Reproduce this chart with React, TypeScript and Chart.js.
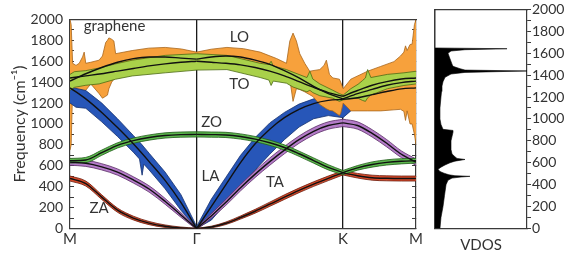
import React, { useEffect, useRef } from 'react';
import { Chart, registerables } from 'chart.js';

Chart.register(...registerables);

// ---------------- data ----------------
// k-path distance (M=0, Γ=0.866, K=1.866, M=2.366)
const kTicks = [0, 0.866, 1.866, 2.366];
const kTickLabels = ['M', 'Γ', 'K', 'M'];

const kGrid = [0, 0.108, 0.217, 0.325, 0.433, 0.541, 0.65, 0.758, 0.866, 0.966, 1.066, 1.166, 1.266, 1.366, 1.466, 1.566, 1.666, 1.766, 1.866, 1.966, 2.066, 2.166, 2.266, 2.366];
const segmentBounds = [[0, 8], [8, 18], [18, 23]];

const zaFreq = [478, 430, 300, 175, 100, 52, 22, 6, 0, 14, 50, 105, 165, 232, 300, 365, 425, 480, 532, 505, 486, 480, 478, 478];
const zaSpread = [24, 24, 22, 20, 18, 15, 12, 8, 3, 8, 12, 15, 18, 20, 22, 22, 22, 22, 20, 22, 24, 24, 24, 24];

const taFreq = [635, 624, 590, 540, 465, 378, 260, 130, 0, 120, 250, 390, 520, 640, 750, 850, 930, 985, 1010, 985, 910, 815, 710, 635];
const taSpread = [30, 30, 30, 30, 30, 30, 28, 22, 10, 22, 28, 30, 32, 35, 35, 35, 35, 35, 35, 35, 35, 35, 32, 30];

const zoFreq = [648, 655, 725, 795, 840, 870, 890, 898, 900, 898, 895, 880, 855, 820, 775, 715, 650, 585, 535, 580, 612, 632, 643, 648];
const zoSpread = [22, 25, 25, 25, 25, 25, 25, 25, 25, 25, 25, 25, 25, 25, 25, 25, 25, 25, 20, 22, 25, 25, 25, 22];

const laFreq = [1345, 1240, 1110, 965, 810, 640, 460, 250, 0, 210, 420, 630, 810, 950, 1060, 1140, 1195, 1225, 1235, 1250, 1280, 1310, 1335, 1345];
const loFreq = [1410, 1480, 1540, 1590, 1625, 1640, 1640, 1630, 1620, 1640, 1650, 1640, 1610, 1570, 1510, 1440, 1360, 1290, 1240, 1290, 1330, 1370, 1395, 1410];
const toFreq = [1440, 1460, 1480, 1505, 1530, 1555, 1575, 1590, 1600, 1590, 1580, 1565, 1540, 1505, 1460, 1405, 1350, 1300, 1265, 1320, 1370, 1405, 1430, 1440];

// LA (blue) uncertainty band
const laBandK = [0, 0.041, 0.108, 0.217, 0.325, 0.433, 0.475, 0.493, 0.505, 0.541, 0.65, 0.758, 0.866, 0.966, 1.066, 1.166, 1.266, 1.366, 1.466, 1.566, 1.666, 1.766, 1.866, 1.966, 2.066, 2.166, 2.266, 2.366];
const laBandLo = [1200, 1160, 1150, 1020, 880, 730, 665, 510, 615, 560, 380, 175, 0, 80, 240, 400, 560, 710, 850, 970, 1050, 1080, 1060, 1180, 1220, 1260, 1290, 1300];
const laBandHi = [1350, 1340, 1320, 1200, 1050, 890, 828, 800, 780, 720, 540, 325, 20, 280, 490, 700, 870, 1010, 1110, 1190, 1240, 1268, 1265, 1290, 1320, 1350, 1370, 1380];

// LO (orange) band
const loBandK = [0, 0.008, 0.018, 0.041, 0.063, 0.086, 0.097, 0.108, 0.142, 0.199, 0.222, 0.244, 0.256, 0.266, 0.285, 0.300, 0.312, 0.425, 0.538, 0.651, 0.762, 0.866, 0.966, 1.073, 1.186, 1.300, 1.412, 1.480, 1.503, 1.525, 1.548, 1.571, 1.605, 1.639, 1.661, 1.708, 1.737, 1.753, 1.774, 1.797, 1.842, 1.851, 1.868, 1.92, 2.034, 2.124, 2.215, 2.260, 2.283, 2.294, 2.305, 2.325, 2.339, 2.355, 2.366];
const loBandLo = [750, 800, 1337, 1307, 1276, 1300, 1310, 1322, 1383, 1290, 1246, 1265, 1276, 1337, 1400, 1428, 1504, 1510, 1530, 1545, 1555, 1565, 1560, 1540, 1510, 1470, 1430, 1428, 1428, 1216, 1337, 1330, 1307, 1280, 1262, 1186, 1160, 1145, 1130, 1125, 1080, 1100, 1200, 1125, 1125, 1125, 1135, 1140, 1120, 1034, 1125, 1000, 1000, 900, 800];
const loBandHi = [2000, 1950, 1580, 1560, 1580, 1641, 1687, 1580, 1590, 1610, 1650, 1778, 1800, 1823, 1810, 1793, 1672, 1702, 1725, 1732, 1717, 1687, 1715, 1732, 1720, 1687, 1626, 1580, 1793, 1869, 1793, 1672, 1580, 1504, 1510, 1520, 1560, 1610, 1474, 1440, 1428, 1400, 1337, 1428, 1504, 1550, 1596, 1650, 1687, 1747, 1702, 1760, 1763, 1950, 2000];

// TO (light green) band
const toBandK = [0, 0.03, 0.108, 0.199, 0.312, 0.425, 0.651, 0.866, 1.073, 1.300, 1.36, 1.375, 1.39, 1.480, 1.525, 1.62, 1.64, 1.66, 1.708, 1.797, 1.842, 1.868, 1.92, 1.97, 2.00, 2.02, 2.035, 2.057, 2.17, 2.283, 2.366];
const toBandLo = [1322, 1350, 1370, 1383, 1428, 1459, 1489, 1515, 1520, 1444, 1420, 1368, 1410, 1390, 1353, 1307, 1322, 1300, 1270, 1246, 1216, 1230, 1240, 1246, 1225, 1216, 1250, 1276, 1337, 1368, 1383];
const toBandHi = [1474, 1500, 1510, 1535, 1575, 1610, 1656, 1672, 1656, 1580, 1568, 1600, 1555, 1520, 1495, 1444, 1504, 1430, 1383, 1322, 1290, 1276, 1337, 1380, 1415, 1440, 1520, 1444, 1474, 1489, 1504];

// band labels
const bandLabels = ['graphene', 'LO', 'TO', 'ZO', 'LA', 'TA', 'ZA'];
const bandLabelK = [0.305, 1.158, 1.158, 0.969, 0.961, 1.401, 0.199];
const bandLabelF = [1937, 1831, 1376, 1018, 503, 442, 199];

// vibrational density of states
const vdosFreq = [0, 100, 200, 300, 400, 440, 460, 470, 476, 482, 490, 505, 520, 540, 560, 580, 600, 615, 630, 640, 655, 680, 720, 800, 880, 895, 905, 950, 1000, 1100, 1200, 1250, 1300, 1340, 1380, 1410, 1425, 1438, 1446, 1459, 1480, 1500, 1550, 1600, 1620, 1632, 1641, 1646, 1648, 2000];
const vdosVal = [0.054, 0.065, 0.087, 0.103, 0.12, 0.141, 0.185, 0.283, 0.38, 0.217, 0.152, 0.098, 0.054, 0.033, 0.065, 0.109, 0.163, 0.217, 0.326, 0.239, 0.217, 0.185, 0.174, 0.174, 0.196, 0.196, 0.087, 0.065, 0.054, 0.054, 0.065, 0.071, 0.076, 0.087, 0.109, 0.174, 0.326, 1.0, 0.326, 0.272, 0.196, 0.185, 0.163, 0.141, 0.174, 0.326, 0.783, 0.217, 0, 0];

// ---------------- styling ----------------
const FONT = "Lato, 'Open Sans', sans-serif";
const TEXT = '#333333';
const AXIS = '#3a3a3a';
const LINE = '#111111';

const COLORS = {
  za: ['#d84a2a', '#6b1d0e'],
  ta: ['#b47cc8', '#5a2f66'],
  zo: ['#5db84e', '#1f5a18'],
  to: ['#a9d14a', '#4d6b14'],
  la: ['#2756b8', '#14306e'],
  lo: ['#f7a13c', '#a8661c'],
};

type Pt = { x: number; y: number };
const pts = (ks: number[], vs: number[]): Pt[] => ks.map((k, i) => ({ x: k, y: vs[i] }));

function smoothBand(freq: number[], spread: number[], fillColor: string, edge: string) {
  const out: any[] = [];
  for (const [a, b] of segmentBounds) {
    const ks = kGrid.slice(a, b + 1);
    const lo = freq.slice(a, b + 1).map((f, i) => f - spread[a + i]);
    const hi = freq.slice(a, b + 1).map((f, i) => f + spread[a + i]);
    out.push({ data: pts(ks, lo), borderColor: edge, borderWidth: 0.8, pointRadius: 0, fill: false, cubicInterpolationMode: 'monotone' });
    out.push({ data: pts(ks, hi), borderColor: edge, borderWidth: 0.8, pointRadius: 0, fill: '-1', backgroundColor: fillColor, cubicInterpolationMode: 'monotone' });
  }
  return out;
}

function roughBand(ks: number[], lo: number[], hi: number[], fillColor: string, edge: string) {
  return [
    { data: pts(ks, lo), borderColor: edge, borderWidth: 0.8, pointRadius: 0, fill: false, tension: 0 },
    { data: pts(ks, hi), borderColor: edge, borderWidth: 0.8, pointRadius: 0, fill: '-1', backgroundColor: fillColor, tension: 0 },
  ];
}

function centerLines(freq: number[]) {
  return segmentBounds.map(([a, b]) => ({
    data: pts(kGrid.slice(a, b + 1), freq.slice(a, b + 1)),
    borderColor: LINE,
    borderWidth: 1.4,
    pointRadius: 0,
    fill: false,
    cubicInterpolationMode: 'monotone',
  }));
}

function sliceBand(ks: number[], lo: number[], hi: number[], from: number, to: number) {
  const idx = ks.map((k, i) => i).filter((i) => ks[i] >= from && ks[i] <= to);
  return [idx.map((i) => ks[i]), idx.map((i) => lo[i]), idx.map((i) => hi[i])] as [number[], number[], number[]];
}

const labelPlugin = {
  id: 'bandLabels',
  afterDatasetsDraw(chart: any) {
    const { ctx, scales } = chart;
    ctx.save();
    ctx.font = `15px ${FONT}`;
    ctx.fillStyle = TEXT;
    ctx.textAlign = 'center';
    ctx.textBaseline = 'middle';
    bandLabels.forEach((t, i) => {
      ctx.fillText(t, scales.x.getPixelForValue(bandLabelK[i]), scales.y.getPixelForValue(bandLabelF[i]));
    });
    ctx.restore();
  },
};

const freqTickLabel = (v: any) => {
  const n = Math.round(Number(v));
  return n % 200 === 0 ? String(n) : '';
};

export default function App() {
  const c1 = useRef<HTMLCanvasElement>(null);
  const c2 = useRef<HTMLCanvasElement>(null);

  useEffect(() => {
    const laMG = sliceBand(laBandK, laBandLo, laBandHi, 0, 0.866);
    const laGKM = sliceBand(laBandK, laBandLo, laBandHi, 0.866, 2.366);

    const datasets: any[] = [
      ...centerLines(zaFreq),
      ...centerLines(taFreq),
      ...centerLines(zoFreq),
      ...centerLines(laFreq),
      ...centerLines(loFreq),
      ...centerLines(toFreq),
      ...smoothBand(zoFreq, zoSpread, COLORS.zo[0], COLORS.zo[1]),
      ...smoothBand(zaFreq, zaSpread, COLORS.za[0], COLORS.za[1]),
      ...smoothBand(taFreq, taSpread, COLORS.ta[0], COLORS.ta[1]),
      ...roughBand(toBandK, toBandLo, toBandHi, COLORS.to[0], COLORS.to[1]),
      ...roughBand(laMG[0], laMG[1], laMG[2], COLORS.la[0], COLORS.la[1]),
      ...roughBand(loBandK, loBandLo, loBandHi, COLORS.lo[0], COLORS.lo[1]),
      ...roughBand(laGKM[0], laGKM[1], laGKM[2], COLORS.la[0], COLORS.la[1]),
    ];

    const ch1 = new Chart(c1.current as HTMLCanvasElement, {
      type: 'line',
      data: { datasets },
      options: {
        animation: false,
        responsive: false,
        devicePixelRatio: 1,
        layout: { padding: { top: 9, right: 6, left: 0, bottom: 0 } },
        plugins: { legend: { display: false }, tooltip: { enabled: false } },
        scales: {
          x: {
            type: 'linear',
            position: 'bottom',
            min: 0,
            max: 2.366,
            z: 1,
            afterBuildTicks: (s: any) => { s.ticks = kTicks.map((v) => ({ value: v })); },
            afterFit: (s: any) => { s.height = 27.5; },
            ticks: {
              autoSkip: false,
              maxRotation: 0,
              padding: 2,
              color: TEXT,
              font: { family: FONT, size: 15 },
              callback: (_v: any, i: number) => kTickLabels[i],
            },
            grid: {
              drawTicks: false,
              lineWidth: 1.3,
              color: (c: any) => (c.index === 1 || c.index === 2 ? '#1a1a1a' : 'rgba(0,0,0,0)'),
            },
            border: { display: true, color: AXIS, width: 1.2 },
          },
          xTop: {
            type: 'linear',
            position: 'top',
            min: 0,
            max: 2.366,
            ticks: { display: false },
            grid: { display: false },
            border: { display: true, color: AXIS, width: 1.2 },
            afterFit: (s: any) => { s.height = 0; },
          },
          y: {
            type: 'linear',
            position: 'left',
            min: 0,
            max: 2000,
            afterFit: (s: any) => { s.width = 70; },
            ticks: {
              stepSize: 100,
              autoSkip: false,
              padding: 11,
              color: TEXT,
              font: { family: FONT, size: 14 },
              callback: freqTickLabel,
            },
            grid: { drawOnChartArea: false, tickLength: -4, color: AXIS, lineWidth: 1 },
            border: { display: true, color: AXIS, width: 1.2 },
            title: {
              display: true,
              text: 'Frequency (cm⁻¹)',
              color: TEXT,
              font: { family: FONT, size: 16 },
              padding: { top: 10, bottom: 0 },
            },
          },
          yRight: {
            type: 'linear',
            position: 'right',
            min: 0,
            max: 2000,
            afterFit: (s: any) => { s.width = 0; },
            ticks: { stepSize: 100, autoSkip: false, display: false },
            grid: { drawOnChartArea: false, tickLength: -4, color: AXIS, lineWidth: 1 },
            border: { display: true, color: AXIS, width: 1.2 },
          },
        },
      } as any,
      plugins: [labelPlugin],
    });

    const ch2 = new Chart(c2.current as HTMLCanvasElement, {
      type: 'line',
      data: {
        datasets: [
          {
            data: vdosFreq.map((f, i) => ({ x: vdosVal[i], y: f })),
            borderColor: '#000',
            borderWidth: 0.6,
            backgroundColor: '#000',
            fill: 'origin',
            pointRadius: 0,
            tension: 0,
          },
        ],
      },
      options: {
        indexAxis: 'y',
        animation: false,
        responsive: false,
        devicePixelRatio: 1,
        layout: { padding: { top: 9, left: 10, right: 0, bottom: 0 } },
        plugins: { legend: { display: false }, tooltip: { enabled: false } },
        scales: {
          x: {
            type: 'linear',
            position: 'bottom',
            min: 0,
            max: 1,
            afterFit: (s: any) => { s.height = 27.5; },
            ticks: { display: false },
            grid: { display: false },
            border: { display: true, color: AXIS, width: 1.2 },
            title: {
              display: true,
              text: 'VDOS',
              color: TEXT,
              font: { family: FONT, size: 15 },
              padding: { top: 0, bottom: 2 },
            },
          },
          xTop: {
            type: 'linear',
            position: 'top',
            min: 0,
            max: 1,
            ticks: { display: false },
            grid: { display: false },
            border: { display: true, color: AXIS, width: 1.2 },
            afterFit: (s: any) => { s.height = 0; },
          },
          y: {
            type: 'linear',
            position: 'right',
            min: 0,
            max: 2000,
            afterFit: (s: any) => { s.width = 43; },
            ticks: {
              stepSize: 100,
              autoSkip: false,
              padding: 1,
              color: TEXT,
              font: { family: FONT, size: 14 },
              callback: freqTickLabel,
            },
            grid: { drawOnChartArea: false, tickLength: 4, color: AXIS, lineWidth: 1 },
            border: { display: true, color: AXIS, width: 1.2 },
          },
          yLeft: {
            type: 'linear',
            position: 'left',
            min: 0,
            max: 2000,
            afterFit: (s: any) => { s.width = 0; },
            ticks: { display: false },
            grid: { display: false },
            border: { display: true, color: AXIS, width: 1.2 },
          },
        },
      } as any,
    });

    let alive = true;
    if ((document as any).fonts && (document as any).fonts.load) {
      (document as any).fonts.load(`15px Lato`).then(() => {
        if (alive) { ch1.update(); ch2.update(); }
      }).catch(() => {});
    }

    return () => {
      alive = false;
      ch1.destroy();
      ch2.destroy();
    };
  }, []);

  return (
    <div style={{ position: 'fixed', left: 0, top: 0, width: 570, height: 256, background: '#ffffff' }}>
      <canvas ref={c1} width={425} height={256} style={{ position: 'absolute', left: 0, top: 0, width: 425, height: 256 }} />
      <canvas ref={c2} width={145} height={256} style={{ position: 'absolute', left: 425, top: 0, width: 145, height: 256 }} />
    </div>
  );
}
